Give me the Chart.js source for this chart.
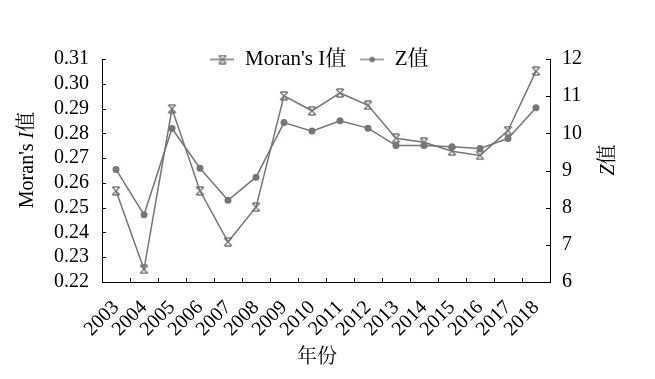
<!DOCTYPE html>
<html>
<head>
<meta charset="utf-8">
<script src="https://cdn.jsdelivr.net/npm/chart.js@4/dist/chart.umd.min.js"></script>
<style>
  html, body { margin: 0; padding: 0; background: #fff; }
  #wrap { width: 655px; height: 379px; }
</style>
</head>
<body>
<div id="wrap"><canvas id="moranChart"></canvas></div>
<script>
// 数据
var years = ["2003", "2004", "2005", "2006", "2007", "2008", "2009", "2010",
             "2011", "2012", "2013", "2014", "2015", "2016", "2017", "2018"];
var moranI = [0.2568, 0.2251, 0.2899, 0.2568, 0.2362, 0.2502, 0.2951, 0.2891,
              0.2963, 0.2913, 0.2780, 0.2764, 0.2728, 0.2711, 0.2811, 0.3051];
var zValue = [9.03, 7.81, 10.13, 9.06, 8.20, 8.82, 10.29, 10.06,
              10.34, 10.14, 9.67, 9.67, 9.64, 9.59, 9.86, 10.69];
var leftTicks = [0.22, 0.23, 0.24, 0.25, 0.26, 0.27, 0.28, 0.29, 0.30, 0.31];
var rightTicks = [6, 7, 8, 9, 10, 11, 12];

var gray = "#7a7474";
var serif = "'Liberation Serif', 'Times New Roman', 'Noto Serif CJK SC', 'Noto Sans CJK SC', serif";

// marker: X with caps
function starMarker(w, h, withLine) {
    var c = document.createElement("canvas");
    c.width = w; c.height = h;
    var g = c.getContext("2d");
    g.strokeStyle = gray;
    g.lineWidth = 1.3;
    var cx = w / 2, cy = h / 2, r = 4;
    g.beginPath();
    if (withLine) { g.moveTo(0, cy); g.lineTo(w, cy); }
    g.moveTo(cx - r, cy - r); g.lineTo(cx + r, cy + r);
    g.moveTo(cx + r, cy - r); g.lineTo(cx - r, cy + r);
    g.moveTo(cx - r + 1, cy - r); g.lineTo(cx + r - 1, cy - r);
    g.moveTo(cx - r + 1, cy + r); g.lineTo(cx + r - 1, cy + r);
    g.stroke();
    return c;
}
function dotLegend(w, h) {
    var c = document.createElement("canvas");
    c.width = w; c.height = h;
    var g = c.getContext("2d");
    g.strokeStyle = gray; g.fillStyle = gray; g.lineWidth = 1.3;
    g.beginPath(); g.moveTo(0, h / 2); g.lineTo(w, h / 2); g.stroke();
    g.beginPath(); g.arc(w / 2, h / 2, 2.8, 0, Math.PI * 2); g.fill();
    return c;
}
var starPoint = starMarker(10, 10, false);
var starLeg = starMarker(24, 10, true);
var dotLeg = dotLegend(24, 10);

function drawMixed(ctx, parts, cx, cy, rot) {
    ctx.save();
    ctx.translate(cx, cy);
    ctx.rotate(rot);
    ctx.textBaseline = "middle";
    ctx.textAlign = "left";
    var total = 0;
    parts.forEach(function(p) { ctx.font = p.font; p.w = ctx.measureText(p.t).width; total += p.w; });
    var x = -total / 2;
    parts.forEach(function(p) { ctx.font = p.font; ctx.fillStyle = "#000"; ctx.fillText(p.t, x, 0); x += p.w; });
    ctx.restore();
}

var axisDecor = {
    id: "axisDecor",
    beforeDraw: function(chart) {
        // legend sits over the top of the plot, a bit left of centre
        var lg = chart.legend;
        if (lg) {
            var h = lg.height;
            lg.top = chart.chartArea.top - 24;
            lg.bottom = lg.top + h;
            lg.left = -8;
            lg.right = chart.width - 8;
        }
    },
    afterDraw: function(chart) {
        var ctx = chart.ctx, a = chart.chartArea;
        var y = chart.scales.y, y1 = chart.scales.y1, x = chart.scales.x;
        ctx.save();
        ctx.strokeStyle = "#000";
        ctx.lineWidth = 1;
        ctx.beginPath();
        leftTicks.forEach(function(v) {
            var p = Math.round(y.getPixelForValue(v)) + 0.5;
            ctx.moveTo(a.left, p); ctx.lineTo(a.left + 4, p);
        });
        rightTicks.forEach(function(v) {
            var p = Math.round(y1.getPixelForValue(v)) + 0.5;
            ctx.moveTo(a.right - 4, p); ctx.lineTo(a.right, p);
        });
        for (var i = 0; i < years.length - 1; i++) {
            var px = Math.round((x.getPixelForTick(i) + x.getPixelForTick(i + 1)) / 2) + 0.5;
            ctx.moveTo(px, a.bottom); ctx.lineTo(px, a.bottom - 4);
        }
        ctx.stroke();
        ctx.restore();

        var f = "20px " + serif, fi = "italic 20px " + serif;
        drawMixed(ctx, [{t: "Moran's ", font: f}, {t: "I", font: fi}, {t: "值", font: f}], 28, 160, -Math.PI / 2);
        drawMixed(ctx, [{t: "Z", font: fi}, {t: "值", font: f}], 609, 160, -Math.PI / 2);
        drawMixed(ctx, [{t: "年份", font: f}], 317, 358, 0);
    }
};

var ctx = document.getElementById("moranChart").getContext("2d");
new Chart(ctx, {
    type: "line",
    data: {
        labels: years,
        datasets: [{
            label: "Moran's I值",
            data: moranI,
            yAxisID: "y",
            borderColor: gray,
            backgroundColor: gray,
            borderWidth: 1.5,
            pointStyle: starPoint,
            tension: 0
        }, {
            label: "Z值",
            data: zValue,
            yAxisID: "y1",
            borderColor: gray,
            backgroundColor: gray,
            borderWidth: 1.5,
            pointStyle: "circle",
            pointRadius: 3.5,
            pointBorderWidth: 0,
            tension: 0
        }]
    },
    options: {
        responsive: true,
        maintainAspectRatio: false,
        animation: false,
        layout: { padding: { top: 14, left: 0, right: 0, bottom: 0 } },
        plugins: {
            tooltip: { enabled: false },
            legend: {
                position: "top",
                align: "center",
                labels: {
                    color: "#000",
                    font: { family: serif, size: 21 },
                    padding: 14,
                    usePointStyle: true,
                    pointStyleWidth: 24,
                    generateLabels: function(chart) {
                        return [
                            { text: "Moran's I值", pointStyle: starLeg, datasetIndex: 0, lineWidth: 0, strokeStyle: gray, fillStyle: gray, fontColor: "#000" },
                            { text: "Z值", pointStyle: dotLeg, datasetIndex: 1, lineWidth: 0, strokeStyle: gray, fillStyle: gray, fontColor: "#000" }
                        ];
                    }
                }
            }
        },
        scales: {
            x: {
                offset: true,
                grid: { display: false, drawTicks: false },
                border: { display: true, color: "#000", width: 1 },
                ticks: {
                    color: "#000",
                    font: { family: serif, size: 20 },
                    maxRotation: 45,
                    minRotation: 45,
                    autoSkip: false,
                    padding: 14
                },
                afterFit: function(s) { s.height = 97; }
            },
            y: {
                position: "left",
                min: 0.22,
                max: 0.31,
                grid: { display: false, drawTicks: false },
                border: { display: true, color: "#000", width: 1 },
                ticks: {
                    autoSkip: false,
                    color: "#000",
                    font: { family: serif, size: 20 },
                    padding: 13,
                    callback: function(v) { return Number(v).toFixed(2); }
                },
                afterBuildTicks: function(s) { s.ticks = leftTicks.map(function(v) { return { value: v }; }); },
                afterFit: function(s) { s.width = 102; }
            },
            y1: {
                position: "right",
                min: 6,
                max: 12,
                grid: { display: false, drawTicks: false },
                border: { display: true, color: "#000", width: 1 },
                ticks: {
                    autoSkip: false,
                    color: "#000",
                    font: { family: serif, size: 20 },
                    padding: 12
                },
                afterBuildTicks: function(s) { s.ticks = rightTicks.map(function(v) { return { value: v }; }); },
                afterFit: function(s) { s.width = 105; }
            }
        }
    },
    plugins: [axisDecor]
});
</script>
</body>
</html>
